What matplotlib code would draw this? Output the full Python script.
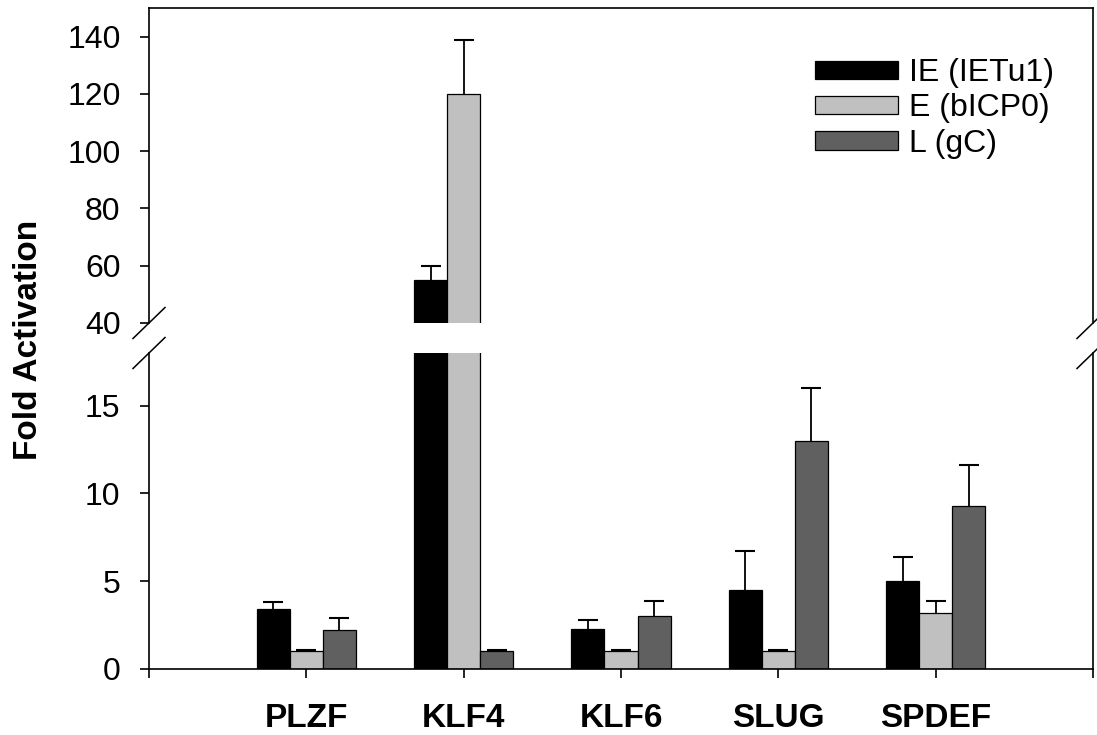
import numpy as np
import matplotlib
matplotlib.use('Agg')
import matplotlib.pyplot as plt

plt.rcParams['font.family'] = ['Liberation Sans', 'DejaVu Sans']

GENES = ['PLZF', 'KLF4', 'KLF6', 'SLUG', 'SPDEF']
SERIES = ['IE (IETu1)', 'E (bICP0)', 'L (gC)']
COLORS = ['#000000', '#c0c0c0', '#606060']

IE_VALUES = [3.4, 55.0, 2.3, 4.5, 5.0]
IE_ERRORS = [0.4, 5.0, 0.5, 2.2, 1.4]
E_VALUES = [1.0, 120.0, 1.0, 1.0, 3.2]
E_ERRORS = [0.1, 19.0, 0.1, 0.1, 0.7]
L_VALUES = [2.2, 1.0, 3.0, 13.0, 9.3]
L_ERRORS = [0.7, 0.1, 0.9, 3.0, 2.3]

TOP_TICKS = [40, 60, 80, 100, 120, 140]
BOTTOM_TICKS = [0, 5, 10, 15]

BAR_WIDTH = 0.21
TICK_FONT = 23
LABEL_FONT = 24


def draw_bars(ax):
    x = np.arange(1, len(GENES) + 1)
    values = [IE_VALUES, E_VALUES, L_VALUES]
    errors = [IE_ERRORS, E_ERRORS, L_ERRORS]
    for i, (vals, errs) in enumerate(zip(values, errors)):
        pos = x + (i - 1) * BAR_WIDTH
        ax.bar(pos, vals, BAR_WIDTH, color=COLORS[i], edgecolor='black',
               linewidth=0.9, label=SERIES[i], zorder=2)
        _, caps, _ = ax.errorbar(pos, vals, yerr=[np.zeros(len(errs)), errs],
                                 fmt='none', ecolor='black', elinewidth=1.3,
                                 capsize=7, capthick=1.5, zorder=3)
        # only the upper cap is wanted
        caps[0].remove()


fig = plt.figure(figsize=(10.97, 7.35), dpi=100)
left, right = 149 / 1097, 1093 / 1097
bot_lo, bot_hi = 1 - 669 / 735, 1 - 353 / 735
top_lo, top_hi = 1 - 323 / 735, 1 - 8 / 735

ax_top = fig.add_axes([left, top_lo, right - left, top_hi - top_lo])
ax_bot = fig.add_axes([left, bot_lo, right - left, bot_hi - bot_lo])

for ax in (ax_top, ax_bot):
    draw_bars(ax)
    ax.set_xlim(0, 6)
    for s in ax.spines.values():
        s.set_linewidth(1.2)
    ax.tick_params(axis='y', direction='out', length=6.5, width=1.2,
                   labelsize=TICK_FONT, pad=14)

ax_top.set_ylim(40, 150)
ax_top.set_yticks(TOP_TICKS)
ax_top.spines['bottom'].set_visible(False)
ax_top.tick_params(axis='x', bottom=False, labelbottom=False)

ax_bot.set_ylim(0, 18)
ax_bot.set_yticks(BOTTOM_TICKS)
ax_bot.spines['top'].set_visible(False)
ax_bot.set_xticks(range(0, 7))
ax_bot.set_xticklabels([''] + GENES + [''], fontweight='bold',
                       fontsize=LABEL_FONT)
ax_bot.tick_params(axis='x', direction='out', length=6.5, width=1.2, pad=18)

# break marks on both side spines
dx, dy = 16 / 1097, 15.5 / 735
for xs in (left, right):
    for ys in (top_lo, bot_hi):
        fig.add_artist(plt.Line2D([xs - dx, xs + dx], [ys - dy, ys + dy],
                                  transform=fig.transFigure, color='black',
                                  linewidth=1.1))

ax_top.legend(loc='upper left', bbox_to_anchor=(815 / 1097, 1 - 58 / 735),
              bbox_transform=fig.transFigure, frameon=False,
              fontsize=TICK_FONT, handlelength=2.6, handleheight=0.5,
              handletextpad=0.35, labelspacing=0.17, borderpad=0,
              borderaxespad=0)

fig.text(29 / 1097, 1 - 340 / 735, 'Fold Activation', rotation=90,
         ha='center', va='center', fontsize=LABEL_FONT, fontweight='bold')

fig.savefig('out.png', dpi=100)
